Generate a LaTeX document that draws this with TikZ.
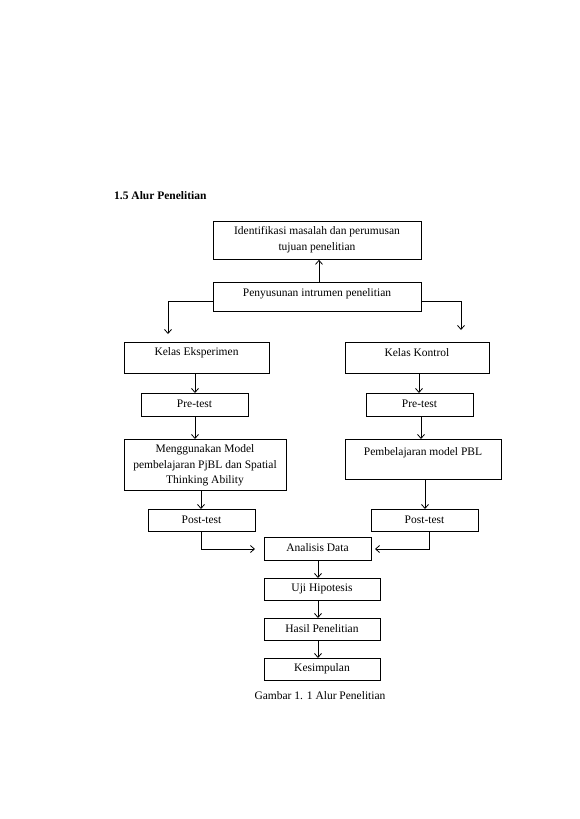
\documentclass[tikz,border=0pt]{standalone}
\usepackage{fontspec}
\setmainfont{Liberation Serif}
\usetikzlibrary{arrows.meta}
\begin{document}
\begin{tikzpicture}[x=1pt,y=-1pt,
  box/.style={draw, line width=0.8pt, anchor=north west, inner sep=0pt},
  txt/.style={font=\fontsize{11.5}{15.5}\selectfont, align=center, inner sep=0pt, yshift=-1pt},
  arr/.style={-{Straight Barb[length=4pt,width=7pt]}, line width=0.8pt},
  ln/.style={line width=0.8pt}]
\useasboundingbox (0,0) rectangle (579,819);
\node[anchor=west, font=\fontsize{11.5}{13}\selectfont\bfseries, inner sep=0pt] (head) at (114,196) {1.5 Alur Penelitian};

\node[box, minimum width=208pt, minimum height=38pt] (b1) at (213,221) {};
\node[txt] (b1t) at (317,238.5) {Identifikasi masalah dan perumusan\\tujuan penelitian};
\node[box, minimum width=208pt, minimum height=29pt] (b2) at (213,282) {};
\node[txt] (b2t) at (317,293) {Penyusunan intrumen penelitian};

\node[box, minimum width=145pt, minimum height=31pt] (ke) at (124,342) {};
\node[txt] (ket) at (196.5,352) {Kelas Eksperimen};
\node[box, minimum width=144pt, minimum height=31pt] (kk) at (345,342) {};
\node[txt] (kkt) at (417,352) {Kelas Kontrol};

\node[box, minimum width=107pt, minimum height=23pt] (pl) at (141,393) {};
\node[txt] (plt) at (194.5,403) {Pre-test};
\node[box, minimum width=107pt, minimum height=23pt] (pr) at (366,393) {};
\node[txt] (prt) at (419.5,403) {Pre-test};

\node[box, minimum width=162pt, minimum height=51pt] (ml) at (124,439) {};
\node[txt] (mlt) at (205,464.5) {Menggunakan Model\\pembelajaran PjBL dan Spatial\\Thinking Ability};
\node[box, minimum width=156pt, minimum height=40pt] (mr) at (345,439) {};
\node[txt] (mrt) at (423,452) {Pembelajaran model PBL};

\node[box, minimum width=107pt, minimum height=22pt] (ql) at (148,509) {};
\node[txt] (qlt) at (201.5,519) {Post-test};
\node[box, minimum width=107pt, minimum height=22pt] (qr) at (371,509) {};
\node[txt] (qrt) at (424.5,519) {Post-test};

\node[box, minimum width=107pt, minimum height=23pt] (ad) at (264,537) {};
\node[txt] (adt) at (317.5,547) {Analisis Data};
\node[box, minimum width=116pt, minimum height=22pt] (uh) at (264,578) {};
\node[txt] (uht) at (322,588) {Uji Hipotesis};
\node[box, minimum width=116pt, minimum height=22pt] (hp) at (264,618) {};
\node[txt] (hpt) at (322,628) {Hasil Penelitian};
\node[box, minimum width=116pt, minimum height=22pt] (ks) at (264,658) {};
\node[txt] (kst) at (322,668) {Kesimpulan};

\node[txt] (cap) at (320,695) {Gambar 1. 1 Alur Penelitian};

% connectors
\draw[arr] (b2.north -| 319,0) -- (b1.south -| 319,0);
\coordinate (lc) at (168,334);
\coordinate (rc) at (461,330);
\draw[arr] (b2.west |- 0,301) -| (lc);
\draw[arr] (b2.east |- 0,301) -| (rc);
\draw[arr] (ke.south -| 195,0) -- (pl.north -| 195,0);
\draw[arr] (kk.south -| 419,0) -- (pr.north -| 419,0);
\draw[arr] (pl.south -| 195,0) -- (ml.north -| 195,0);
\draw[arr] (pr.south -| 421,0) -- (mr.north -| 421,0);
\draw[arr] (ml.south -| 201,0) -- (ql.north -| 201,0);
\draw[arr] (mr.south -| 425,0) -- (qr.north -| 425,0);
\coordinate (al) at (255,549);
\coordinate (ar) at (375,549);
\draw[arr] (ql.south -| 201,0) |- (al);
\draw[arr] (qr.south -| 429,0) |- (ar);
\draw[arr] (ad.south -| 318,0) -- (uh.north -| 318,0);
\draw[arr] (uh.south -| 318,0) -- (hp.north -| 318,0);
\draw[arr] (hp.south -| 318,0) -- (ks.north -| 318,0);
\end{tikzpicture}
\end{document}
